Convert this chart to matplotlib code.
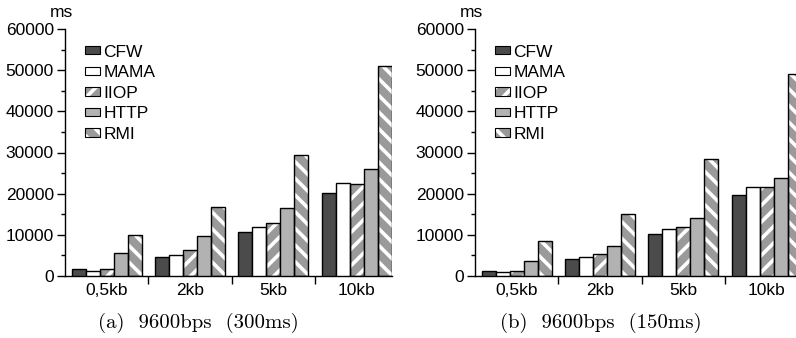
import matplotlib
matplotlib.use("Agg")
import matplotlib.pyplot as plt
import matplotlib.patches as mpatches
from matplotlib.legend_handler import HandlerTuple
import numpy as np

categories = ["0,5kb", "2kb", "5kb", "10kb"]
series = ["CFW", "MAMA", "IIOP", "HTTP", "RMI"]

values_a = {
    "CFW":  [1600, 4500, 10600, 20100],
    "MAMA": [1300, 5200, 12000, 22500],
    "IIOP": [1600, 6200, 12900, 22400],
    "HTTP": [5500, 9700, 16500, 26100],
    "RMI":  [9900, 16700, 29400, 51100],
}
values_b = {
    "CFW":  [1300, 4100, 10300, 19700],
    "MAMA": [1050, 4500, 11400, 21700],
    "IIOP": [1300, 5300, 11800, 21700],
    "HTTP": [3700, 7400, 14200, 23900],
    "RMI":  [8400, 15000, 28300, 49000],
}
captions = ["(a)  9600bps  (300ms)", "(b)  9600bps  (150ms)"]
yticks = [0, 10000, 20000, 30000, 40000, 50000, 60000]

styles = {
    "CFW":  dict(face="#4b4b4b", hatch=None),
    "MAMA": dict(face="#ffffff", hatch=None),
    "IIOP": dict(face="#9a9a9a", hatch="//"),
    "HTTP": dict(face="#b2b2b2", hatch=None),
    "RMI":  dict(face="#9a9a9a", hatch="\\\\"),
}

plt.rcParams["hatch.linewidth"] = 2.6
plt.rcParams["font.family"] = ["Liberation Sans", "DejaVu Sans"]

FS = 12.5

fig = plt.figure(figsize=(7.96, 3.38), dpi=100)
W, H = 796, 338
axes_left_px = [65, 475]
cat_px = 83.3
xmax = 3.92

bw = 0.168
for k, (vals, cap, axl) in enumerate(zip([values_a, values_b], captions, axes_left_px)):
    ax = fig.add_axes([axl / W, (H - 276) / H, xmax * cat_px / W, 247 / H])
    x = np.arange(len(categories))
    handles = []
    for j, s in enumerate(series):
        pos = x + 0.08 + j * bw
        st = styles[s]
        if st["hatch"]:
            ax.bar(pos, vals[s], bw, align="edge", color=st["face"],
                   edgecolor="white", hatch=st["hatch"], linewidth=0, zorder=2)
            ax.bar(pos, vals[s], bw, align="edge", fill=False,
                   edgecolor="black", linewidth=1.0, zorder=3)
            h1 = mpatches.Rectangle((0, 0), 1, 1, facecolor=st["face"],
                                    edgecolor="white", linewidth=0,
                                    hatch=st["hatch"])
            h2 = mpatches.Rectangle((0, 0), 1, 1, fill=False,
                                    edgecolor="black", linewidth=0.8)
            handles.append((h1, h2))
        else:
            ax.bar(pos, vals[s], bw, align="edge", color=st["face"],
                   edgecolor="black", linewidth=1.0, zorder=3)
            handles.append(mpatches.Rectangle((0, 0), 1, 1, facecolor=st["face"],
                                              edgecolor="black", linewidth=0.8))
    ax.set_xlim(0, xmax)
    ax.set_ylim(0, 60000)
    ax.set_yticks(yticks)
    ax.set_yticks(np.arange(5000, 60000, 10000), minor=True)
    ax.set_yticklabels([str(v) for v in yticks], fontsize=FS)
    ax.set_xticks([1, 2, 3])
    ax.set_xticklabels([])
    ax.set_xticks(x + 0.5, minor=True)
    ax.set_xticklabels(categories, minor=True, fontsize=FS)
    ax.tick_params(axis="x", which="minor", length=0, pad=5)
    ax.tick_params(axis="x", which="major", length=6, width=1, direction="out")
    ax.tick_params(axis="y", which="major", length=6, width=1, pad=2)
    ax.tick_params(axis="y", which="minor", length=3, width=1)
    for sp in ["top", "right"]:
        ax.spines[sp].set_visible(False)
    for sp in ["left", "bottom"]:
        ax.spines[sp].set_linewidth(1.0)
    ax.text(-0.01, 1.035, "ms", transform=ax.transAxes, ha="center",
            va="bottom", fontsize=FS)
    ax.legend(handles, series, loc="upper left",
              bbox_to_anchor=(0.04, 0.965), frameon=False, fontsize=FS,
              handlelength=0.85, handleheight=0.35, handletextpad=0.2,
              labelspacing=0.32, borderaxespad=0,
              handler_map={tuple: HandlerTuple(ndivide=1, pad=0)})
    cx = 198 if k == 0 else 601
    fig.text(cx / W, (H - 323) / H, cap, ha="center", va="center",
             fontsize=15, family="cmr10")

fig.savefig("out.png", dpi=100)
